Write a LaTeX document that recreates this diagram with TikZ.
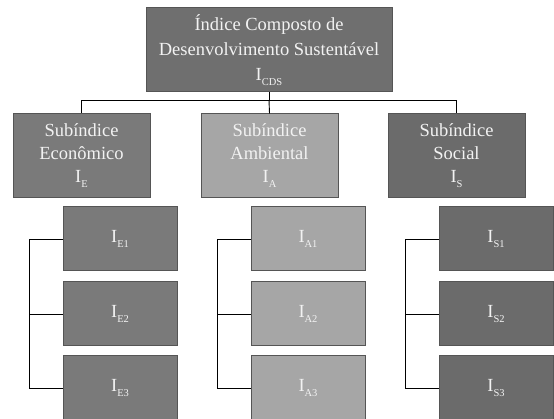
\documentclass[tikz,border=0pt]{standalone}
\usepackage{fontspec}
\setmainfont{Liberation Serif}
\definecolor{dk}{HTML}{6F6F6F}
\definecolor{md}{HTML}{7A7A7A}
\definecolor{lt}{HTML}{A6A6A6}
\definecolor{sc}{HTML}{6B6B6B}
\definecolor{bd}{HTML}{555555}
\definecolor{tx}{HTML}{F2F2F2}
\newcommand{\ix}[1]{I\raisebox{-5pt}{\fontsize{10.5}{10.5}\selectfont #1}}
\begin{document}
\begin{tikzpicture}[x=1pt,y=-1pt,
  box/.style={draw=bd, line width=1pt, rectangle, text=tx, align=center, inner sep=0pt,
     font=\fontsize{18.5}{23}\selectfont},
  topbox/.style={box, fill=dk, minimum width=246pt, minimum height=84pt, font=\fontsize{18.5}{25}\selectfont},
  subbox/.style={box, minimum width=137pt, minimum height=84pt},
  leaf/.style={box, minimum width=114pt, minimum height=64pt},
  conn/.style={draw=black, line width=0.9pt}]
\useasboundingbox (0,0) rectangle (554,419);
\fill[white] (0,0) rectangle (554,419);
\node[topbox] (T) at (269,50) {Índice Composto de\\Desenvolvimento Sustentável\\\ix{CDS}};
\node[subbox, fill=md] (E) at (81.5,156) {Subíndice\\Econômico\\\ix{E}};
\node[subbox, fill=lt] (A) at (269.5,156) {Subíndice\\Ambiental\\\ix{A}};
\node[subbox, fill=sc] (S) at (456.5,156) {Subíndice\\Social\\\ix{S}};
\node[leaf, fill=md] (E1) at (120,239) {\ix{E1}};
\node[leaf, fill=md] (E2) at (120,314) {\ix{E2}};
\node[leaf, fill=md] (E3) at (120,388) {\ix{E3}};
\node[leaf, fill=lt] (A1) at (308,239) {\ix{A1}};
\node[leaf, fill=lt] (A2) at (308,314) {\ix{A2}};
\node[leaf, fill=lt] (A3) at (308,388) {\ix{A3}};
\node[leaf, fill=sc] (S1) at (496,239) {\ix{S1}};
\node[leaf, fill=sc] (S2) at (496,314) {\ix{S2}};
\node[leaf, fill=sc] (S3) at (496,388) {\ix{S3}};
\coordinate (H) at (269,100);
\draw[conn] (T.south) -- (H);
\draw[conn] (H) -| (E.north);
\draw[conn] (H) -| (S.north);
\draw[conn] (H) -- (A.north);
\foreach \c in {E,A,S}{
  \draw[conn] (\c1.west) -- ++(-33,0) |- (\c3.west);
  \draw[conn] (\c2.west) -- ++(-33,0);
}
\end{tikzpicture}
\end{document}
